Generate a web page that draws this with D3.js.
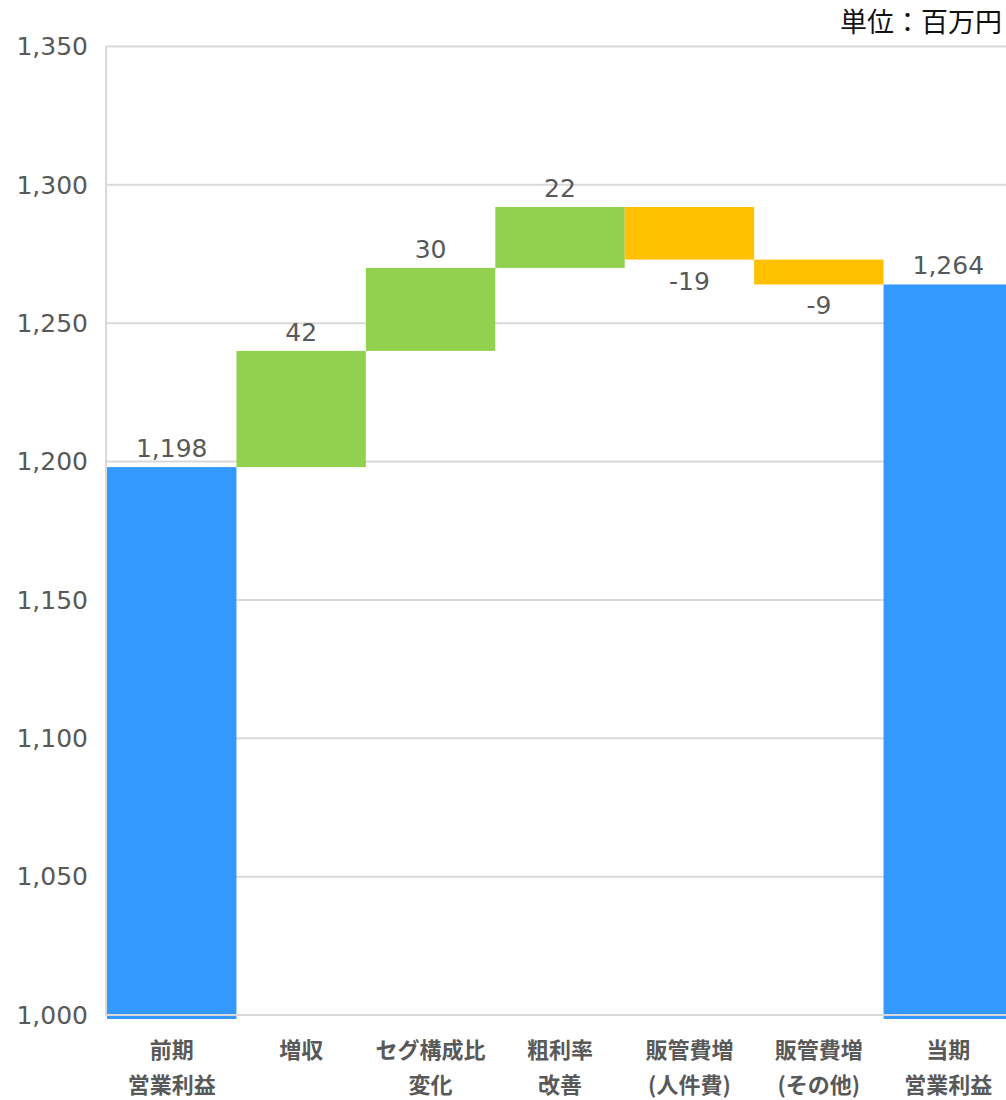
<!DOCTYPE html>
<html>
<head>
<meta charset="utf-8">
<script src="https://cdn.jsdelivr.net/npm/d3@7"></script>
<style>
  body { margin: 0; background: #fff; }
  svg { display: block; }
</style>
</head>
<body>
<script>
// data
const categories = [["前期", "営業利益"], ["増収"], ["セグ構成比", "変化"], ["粗利率", "改善"],
                    ["販管費増", "(人件費)"], ["販管費増", "(その他)"], ["当期", "営業利益"]];
const values = [1198, 42, 30, 22, -19, -9, 1264];
const kinds = ["total", "delta", "delta", "delta", "delta", "delta", "total"];
const yTicks = [1000, 1050, 1100, 1150, 1200, 1250, 1300, 1350];
const unitLabel = "単位：百万円";

const W = 1006, H = 1100;
const svg = d3.select("body").append("svg").attr("width", W).attr("height", H);

const x = d3.scaleBand().domain(d3.range(categories.length)).range([107, 1013]).padding(0);
const y = d3.scaleLinear().domain([1000, 1350]).range([1015, 46.5]);

const color = { total: "#3399FF", up: "#92D050", down: "#FFC000" };

// compute waterfall segments
let run = 0;
const segs = values.map((v, i) => {
  let lo, hi, type;
  if (kinds[i] === "total") { lo = 1000; hi = v; run = v; type = "total"; }
  else { const s = run; run += v; lo = Math.min(s, run); hi = Math.max(s, run); type = v >= 0 ? "up" : "down"; }
  return { i, v, lo, hi, type };
});

// gridlines
svg.append("g").selectAll("line").data(yTicks.filter(t => t > 1000)).join("line")
  .attr("x1", 107).attr("x2", W)
  .attr("y1", d => y(d)).attr("y2", d => y(d))
  .attr("stroke", "#d9d9d9").attr("stroke-width", 2);

// bars
svg.append("g").selectAll("rect").data(segs).join("rect")
  .attr("x", d => x(d.i))
  .attr("width", x.bandwidth())
  .attr("y", d => y(d.hi))
  .attr("height", d => y(d.lo) - y(d.hi) + (d.type === "total" ? 4 : 0))
  .attr("fill", d => color[d.type]);

// axis lines
svg.append("line").attr("x1", 106).attr("x2", 106).attr("y1", y(1350) - 1).attr("y2", y(1000) + 1)
  .attr("stroke", "#d9d9d9").attr("stroke-width", 2);
svg.append("line").attr("x1", 105).attr("x2", W).attr("y1", y(1000)).attr("y2", y(1000))
  .attr("stroke", "#d9d9d9").attr("stroke-width", 2);

// y tick labels
const fmt = v => d3.format(",")(v).replace("\u2212", "-");
svg.append("g").selectAll("text").data(yTicks).join("text")
  .attr("x", 88).attr("y", d => y(d)).attr("dy", "0.35em")
  .attr("text-anchor", "end")
  .style("font", "25px 'DejaVu Sans', Verdana, sans-serif")
  .attr("fill", "#595959")
  .text(d => fmt(d));

// data labels
svg.append("g").selectAll("text").data(segs).join("text")
  .attr("x", d => x(d.i) + x.bandwidth() / 2)
  .attr("y", d => d.type === "down" ? y(d.lo) + 30 : y(d.hi) - 10)
  .attr("text-anchor", "middle")
  .style("font", "25px 'DejaVu Sans', Verdana, sans-serif")
  .attr("fill", "#595959")
  .text(d => fmt(d.v));

// category labels
const cat = svg.append("g").selectAll("text").data(categories).join("text")
  .attr("x", (d, i) => x(i) + x.bandwidth() / 2)
  .attr("y", 1058)
  .attr("text-anchor", "middle")
  .style("font", "bold 22px 'Noto Sans CJK JP', sans-serif")
  .attr("fill", "#595959");
cat.selectAll("tspan").data(d => d).join("tspan")
  .attr("x", function() { return d3.select(this.parentNode).attr("x"); })
  .attr("dy", (d, i) => i === 0 ? 0 : 35)
  .text(d => d);

// unit label
svg.append("text")
  .attr("x", 1002).attr("y", 32)
  .attr("text-anchor", "end")
  .style("font", "27px 'Noto Sans CJK JP', sans-serif")
  .attr("fill", "#111")
  .text(unitLabel);
</script>
</body>
</html>
